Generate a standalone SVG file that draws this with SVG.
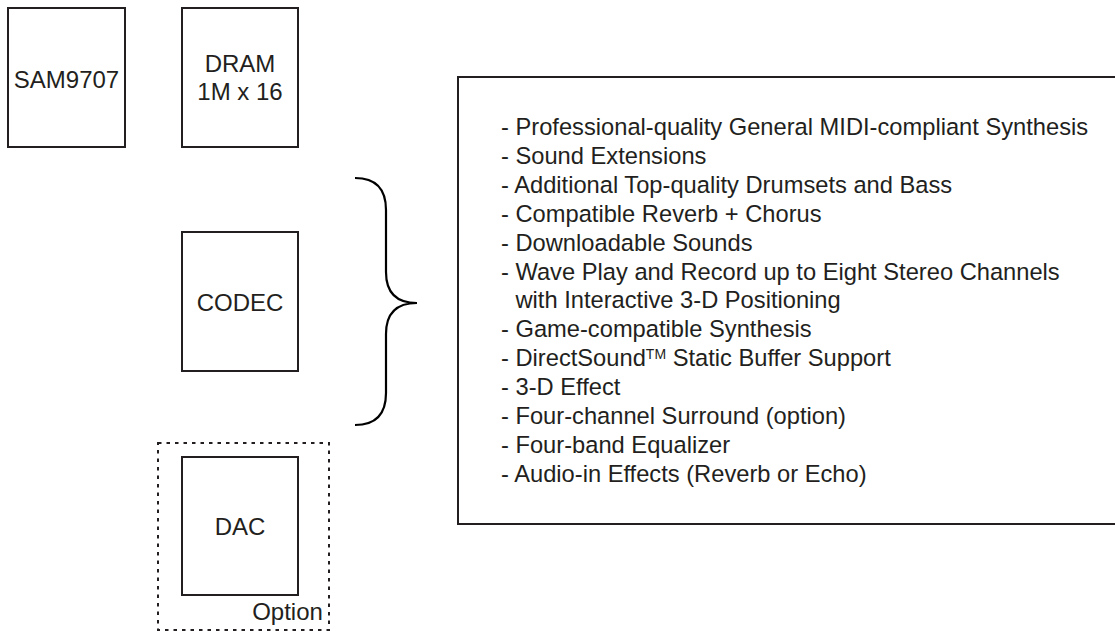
<svg xmlns="http://www.w3.org/2000/svg" width="1115" height="631" viewBox="0 0 1115 631">
<style>
.box{fill:#fff;stroke:#231f20;stroke-width:2}
.lbl{font-family:"Liberation Sans",Arial,sans-serif;font-size:24px;fill:#231f20;text-anchor:middle}
.lst{font-family:"Liberation Sans",Arial,sans-serif;font-size:23.7px;fill:#231f20}
.dot{fill:none;stroke:#231f20;stroke-width:2;stroke-dasharray:3.5 5}
.brace{fill:none;stroke:#000;stroke-width:2.2}
</style>
<rect width="1115" height="631" fill="#fff"/>
<g id="sam9707">
<rect class="box" x="8" y="8" width="117" height="139"/>
<text class="lbl" x="66.5" y="88">SAM9707</text>
</g>
<g id="dram">
<rect class="box" x="182" y="8" width="116" height="139"/>
<text class="lbl" x="240" y="72">DRAM</text>
<text class="lbl" x="240" y="100">1M x 16</text>
</g>
<g id="codec">
<rect class="box" x="182" y="232" width="116" height="139"/>
<text class="lbl" x="240" y="311">CODEC</text>
</g>
<g id="option">
<rect class="dot" x="158" y="443" width="171" height="187"/>
<text class="lbl" x="287.5" y="620">Option</text>
</g>
<g id="dac">
<rect class="box" x="182" y="457" width="116" height="138"/>
<text class="lbl" x="240" y="535">DAC</text>
</g>
<g id="features">
<rect class="box" x="458" y="77" width="665" height="447"/>
<text class="lst" x="501" y="135">- Professional-quality General MIDI-compliant Synthesis</text>
<text class="lst" x="501" y="163.9">- Sound Extensions</text>
<text class="lst" x="501" y="192.8">- Additional Top-quality Drumsets and Bass</text>
<text class="lst" x="501" y="221.7">- Compatible Reverb + Chorus</text>
<text class="lst" x="501" y="250.6">- Downloadable Sounds</text>
<text class="lst" x="501" y="279.5">- Wave Play and Record up to Eight Stereo Channels</text>
<text class="lst" x="515.5" y="308.4">with Interactive 3-D Positioning</text>
<text class="lst" x="501" y="337.3">- Game-compatible Synthesis</text>
<text class="lst" x="501" y="366.2">- DirectSound<tspan font-size="14" dy="-7">TM</tspan><tspan dy="7"> Static Buffer Support</tspan></text>
<text class="lst" x="501" y="395.1">- 3-D Effect</text>
<text class="lst" x="501" y="424">- Four-channel Surround (option)</text>
<text class="lst" x="501" y="452.9">- Four-band Equalizer</text>
<text class="lst" x="501" y="481.8">- Audio-in Effects (Reverb or Echo)</text>
</g>
<g id="connectors">
<path class="brace" d="M355,178 Q386,178 386,210 L386,272 Q386,303 417,303 Q386,303 386,334 L386,393 Q386,425 355,425"/>
</g>
</svg>
